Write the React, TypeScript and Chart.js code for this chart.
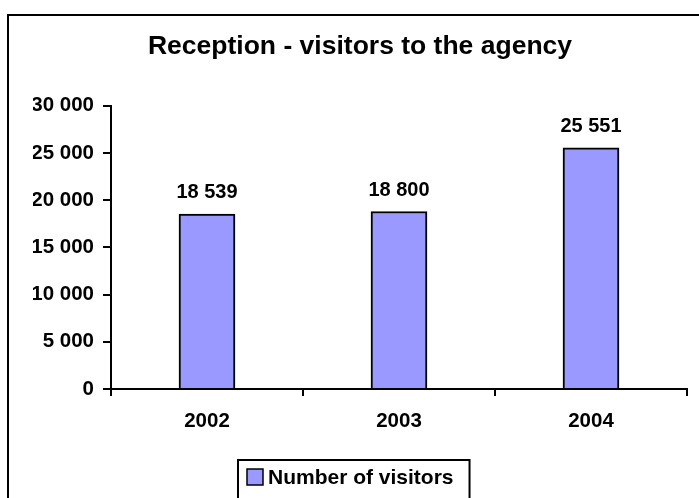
import React, { useEffect, useRef } from "react";
import { Chart, registerables } from "chart.js";

Chart.register(...registerables);

const categories = ["2002", "2003", "2004"];
const visitors = [18539, 18800, 25551];
const seriesLabel = "Number of visitors";
const chartTitle = "Reception - visitors to the agency";
const yTicks = [0, 5000, 10000, 15000, 20000, 25000, 30000];

const FONT = "'Liberation Sans', Arial, Helvetica, sans-serif";
const BAR_COLOR = "#9999FF";

const fmt = (v: number) =>
  String(Math.round(v)).replace(/\B(?=(\d{3})+(?!\d))/g, " ");

const framePlugin = {
  id: "frame",
  beforeDraw(chart: any) {
    const { ctx, width, height } = chart;
    ctx.save();
    ctx.fillStyle = "#ffffff";
    ctx.fillRect(0, 0, width, height);
    ctx.strokeStyle = "#000000";
    ctx.lineWidth = 2;
    ctx.strokeRect(8, 15, width + 20, height + 40);
    ctx.restore();
  },
};

const valueLabelPlugin = {
  id: "valueLabels",
  afterDatasetsDraw(chart: any) {
    const { ctx } = chart;
    ctx.save();
    ctx.font = `bold 20px ${FONT}`;
    ctx.fillStyle = "#000000";
    ctx.textAlign = "center";
    ctx.textBaseline = "alphabetic";
    chart.data.datasets.forEach((ds: any, di: number) => {
      const meta = chart.getDatasetMeta(di);
      meta.data.forEach((el: any, i: number) => {
        ctx.fillText(fmt(ds.data[i]), el.x, el.y - 16);
      });
    });
    ctx.restore();
  },
};

const boxLegendPlugin = {
  id: "boxLegend",
  afterDraw(chart: any) {
    const { ctx, height } = chart;
    const ds = chart.data.datasets[0];
    ctx.save();
    ctx.font = `bold 21px ${FONT}`;
    const tw = ctx.measureText(ds.label).width;
    const padL = 9;
    const sw = 16;
    const gap = 5;
    const padR = 16;
    const bw = padL + sw + gap + tw + padR;
    const cx = 354;
    const left = Math.round(cx - bw / 2);
    const top = 460;
    ctx.strokeStyle = "#000000";
    ctx.lineWidth = 2;
    ctx.strokeRect(left, top, bw, height - top + 30);
    const my = 477;
    ctx.fillStyle = ds.backgroundColor;
    ctx.fillRect(left + padL, my - 8, sw, sw);
    ctx.lineWidth = 1.5;
    ctx.strokeRect(left + padL, my - 8, sw, sw);
    ctx.fillStyle = "#000000";
    ctx.textAlign = "left";
    ctx.textBaseline = "middle";
    ctx.fillText(ds.label, left + padL + sw + gap, my + 1);
    ctx.restore();
  },
};

export default function App() {
  const ref = useRef<HTMLCanvasElement | null>(null);

  useEffect(() => {
    document.body.style.margin = "0";
    if (!ref.current) return;
    const chart = new Chart(ref.current, {
      type: "bar",
      data: {
        labels: categories,
        datasets: [
          {
            label: seriesLabel,
            data: visitors,
            backgroundColor: BAR_COLOR,
            borderColor: "#000000",
            borderWidth: 2,
            barThickness: 56,
          },
        ],
      },
      options: {
        animation: false,
        responsive: true,
        maintainAspectRatio: false,
        layout: { padding: { left: 33, right: 12, top: 0, bottom: 59 } },
        plugins: {
          legend: { display: false },
          tooltip: { enabled: false },
          title: {
            display: true,
            text: chartTitle,
            color: "#000000",
            font: { family: FONT, size: 26.5, weight: "bold" },
            padding: { top: 31, bottom: 43 },
          },
        },
        scales: {
          x: {
            grid: {
              offset: true,
              drawOnChartArea: false,
              drawTicks: true,
              tickLength: 7,
              color: "#000000",
              lineWidth: 2,
            },
            border: { display: true, color: "#000000", width: 2 },
            ticks: {
              color: "#000000",
              font: { family: FONT, size: 20.5, weight: "bold" },
              padding: 13,
              maxRotation: 0,
            },
            afterFit: (s: any) => {
              s.height = 50;
            },
          },
          y: {
            min: yTicks[0],
            max: yTicks[yTicks.length - 1],
            ticks: {
              stepSize: yTicks[1] - yTicks[0],
              color: "#000000",
              font: { family: FONT, size: 20.5, weight: "bold" },
              padding: 9,
              callback: (v: any) => fmt(Number(v)),
            },
            grid: {
              drawOnChartArea: false,
              drawTicks: true,
              tickLength: 8,
              color: "#000000",
              lineWidth: 2,
            },
            border: { display: true, color: "#000000", width: 2 },
            afterFit: (s: any) => {
              s.width = 78;
            },
          },
        },
      },
      plugins: [framePlugin, valueLabelPlugin, boxLegendPlugin],
    });
    return () => chart.destroy();
  }, []);

  return (
    <div style={{ position: "absolute", left: 0, top: 0, width: 699, height: 498 }}>
      <canvas ref={ref} />
    </div>
  );
}
